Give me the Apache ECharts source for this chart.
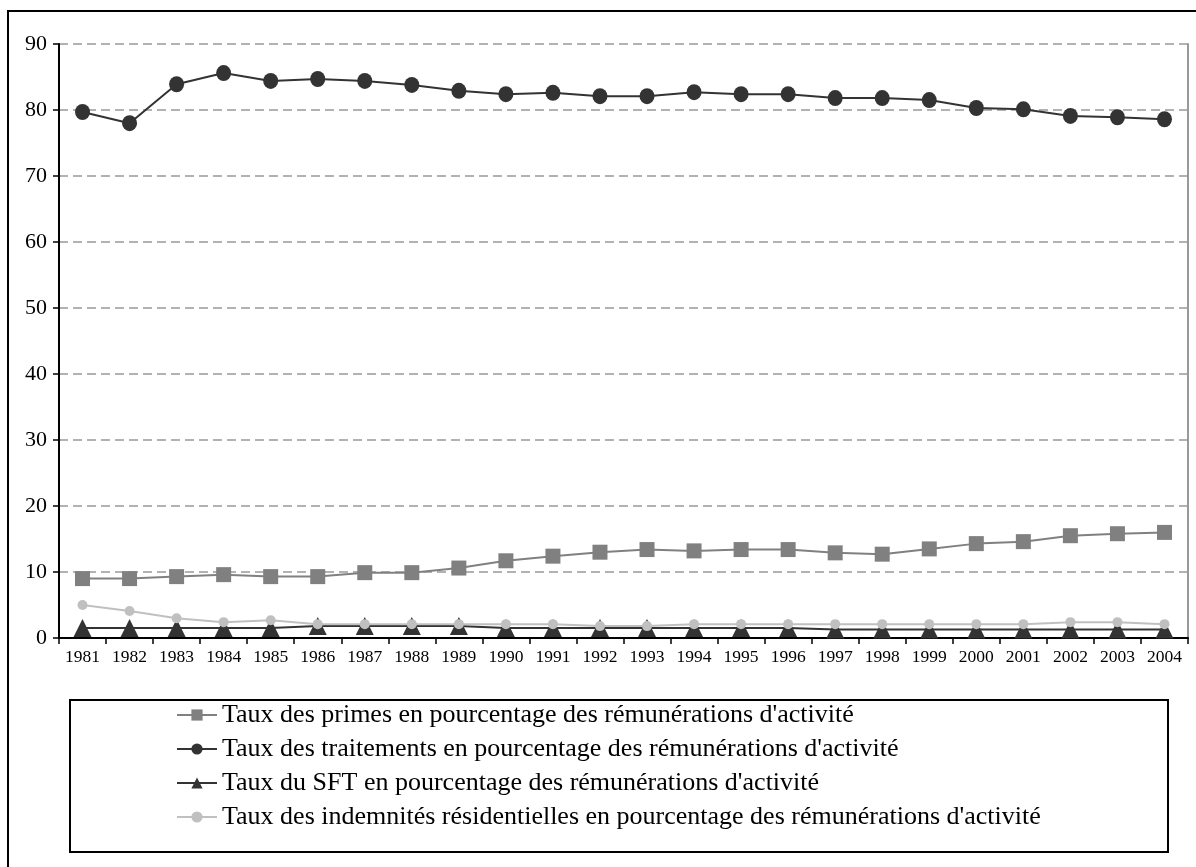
<!DOCTYPE html>
<html>
<head>
<meta charset="utf-8">
<script src="https://cdn.jsdelivr.net/npm/echarts@6/dist/echarts.min.js"></script>
<style>html,body{margin:0;padding:0;background:#fff}#c{width:1196px;height:867px}</style>
</head>
<body>
<div id="c"></div>
<script>
const years = ['1981','1982','1983','1984','1985','1986','1987','1988','1989','1990','1991','1992','1993','1994','1995','1996','1997','1998','1999','2000','2001','2002','2003','2004'];
const primes = [9.0,9.0,9.3,9.6,9.3,9.3,9.9,9.9,10.6,11.7,12.4,13.0,13.4,13.2,13.4,13.4,12.9,12.7,13.5,14.3,14.6,15.5,15.8,16.0];
const traitements = [79.7,78.0,83.9,85.6,84.4,84.7,84.4,83.8,82.9,82.4,82.6,82.1,82.1,82.7,82.4,82.4,81.8,81.8,81.5,80.3,80.1,79.1,78.9,78.6];
const sft = [1.5,1.5,1.5,1.5,1.5,1.8,1.8,1.8,1.8,1.5,1.5,1.5,1.5,1.5,1.5,1.5,1.3,1.3,1.3,1.3,1.3,1.3,1.3,1.3];
const indemnites = [5.0,4.1,3.0,2.4,2.7,2.1,2.1,2.1,2.1,2.1,2.1,1.8,1.8,2.1,2.1,2.1,2.1,2.1,2.1,2.1,2.1,2.4,2.4,2.1];
const names = [
  "Taux des primes en pourcentage des rémunérations d'activité",
  "Taux des traitements en pourcentage des rémunérations d'activité",
  "Taux du SFT en pourcentage des rémunérations d'activité",
  "Taux des indemnités résidentielles en pourcentage des rémunérations d'activité"
];
const yTicks = [0,10,20,30,40,50,60,70,80,90];

const font = "'Liberation Serif','Times New Roman',serif";
const chart = echarts.init(document.getElementById('c'), null, {renderer:'canvas'});
chart.setOption({
  animation:false,
  backgroundColor:'#fff',
  textStyle:{fontFamily:font},
  grid:{left:59,right:8,top:44,bottom:229,containLabel:false},
  graphic:[
    {type:'rect',shape:{x:8,y:11,width:1200,height:870},style:{fill:'none',stroke:'#000',lineWidth:2},z:-1},
    {type:'rect',shape:{x:70,y:700,width:1098,height:152},style:{fill:'none',stroke:'#000',lineWidth:2},z:-1}
  ],
  legend:{
    orient:'vertical',left:171,top:697,
    itemWidth:40,itemHeight:14,itemGap:8,
    textStyle:{fontFamily:font,fontSize:26,color:'#000',lineHeight:26},
    data:names
  },
  xAxis:{
    type:'category',data:years,boundaryGap:true,
    axisLine:{lineStyle:{color:'#000',width:2}},
    axisTick:{show:true,length:6,lineStyle:{color:'#000',width:1.5}},
    axisLabel:{fontFamily:font,fontSize:17.5,color:'#000',margin:10,interval:0}
  },
  yAxis:[{
    type:'value',min:0,max:90,interval:10,
    axisLine:{show:true,lineStyle:{color:'#000',width:2}},
    axisTick:{show:true,length:6,lineStyle:{color:'#000',width:1.5}},
    axisLabel:{fontFamily:font,fontSize:22,color:'#000',margin:12,
      formatter:function(v){return yTicks.indexOf(v)>=0?String(v):'';}},
    splitLine:{show:true,lineStyle:{color:'#999',width:1.5,type:[9,5]}}
  },{
    type:'value',min:0,max:90,interval:10,position:'right',
    axisLine:{show:true,lineStyle:{color:'#999',width:2}},
    axisTick:{show:false},axisLabel:{show:false},splitLine:{show:false}
  }],
  series:[
    {name:names[0],type:'line',data:primes,symbol:'rect',symbolSize:15,
      itemStyle:{color:'#808080'},lineStyle:{color:'#808080',width:2}},
    {name:names[1],type:'line',data:traitements,symbol:'circle',symbolSize:[15,16],
      itemStyle:{color:'#333'},lineStyle:{color:'#333',width:2}},
    {name:names[2],type:'line',data:sft,symbol:'triangle',symbolSize:18,
      itemStyle:{color:'#333'},lineStyle:{color:'#333',width:2},z:1},
    {name:names[3],type:'line',data:indemnites,symbol:'circle',symbolSize:10,
      itemStyle:{color:'#c0c0c0'},lineStyle:{color:'#c0c0c0',width:2},z:3}
  ]
});
</script>
</body>
</html>
